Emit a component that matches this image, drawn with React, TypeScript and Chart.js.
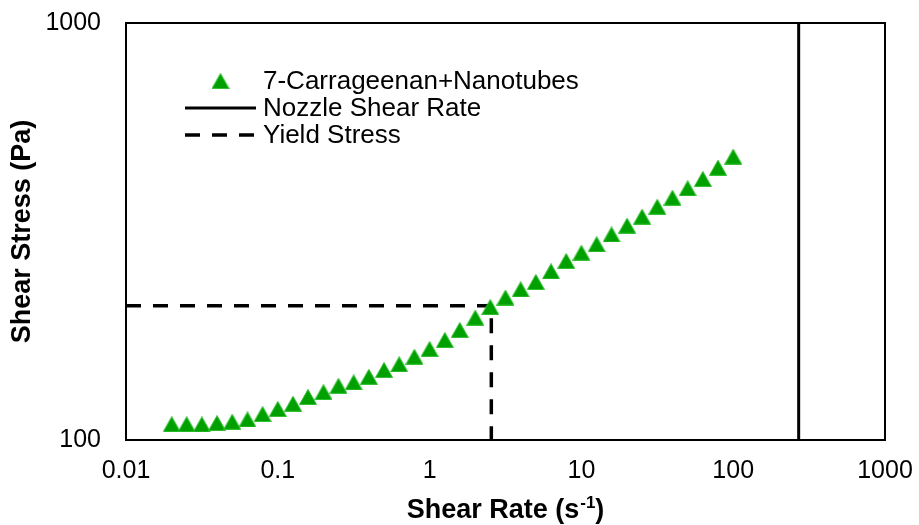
import { useEffect, useRef } from "react";
import { Chart, registerables } from "chart.js";
Chart.register(...registerables);

// ---- data ----
const shearRate = [
  0.02, 0.0251, 0.0316, 0.0398, 0.0501, 0.0631, 0.0794, 0.1, 0.126, 0.158,
  0.2, 0.251, 0.316, 0.398, 0.501, 0.631, 0.794, 1, 1.26, 1.58,
  2, 2.51, 3.16, 3.98, 5.01, 6.31, 7.94, 10, 12.6, 15.8,
  20, 25.1, 31.6, 39.8, 50.1, 63.1, 79.4, 100,
];
const shearStress = [
  109.1, 109.1, 109.0, 109.8, 110.6, 112.0, 115.4, 118.7, 122.2, 126.8,
  130.3, 134.9, 137.5, 141.8, 147.2, 151.9, 158.4, 165.3, 173.7, 183.6,
  196.5, 208.4, 219.6, 229.8, 239.3, 253.9, 268.7, 281.3, 294.8, 311.1,
  326.6, 343.2, 362.6, 381.1, 401.4, 422.6, 449.8, 478.1,
];
const nozzleShearRate = 270;
const yieldRate = 2.55;
const yieldStress = 210;
const xTicks = [0.01, 0.1, 1, 10, 100, 1000];
const yTicks = [100, 1000];
const seriesLabel = "7-Carrageenan+Nanotubes";
const nozzleLabel = "Nozzle Shear Rate";
const yieldLabel = "Yield Stress";
const xTitleParts = ["Shear Rate (s", "-1", ")"];
const yTitle = "Shear Stress (Pa)";

const GREEN = "#00A000";
const FONT = "'Liberation Sans', Arial, Helvetica, sans-serif";

function makeTriangle(): HTMLCanvasElement {
  const c = document.createElement("canvas");
  const w = 18, h = 16;
  c.width = w;
  c.height = h;
  const ctx = c.getContext("2d")!;
  ctx.beginPath();
  ctx.moveTo(w / 2, 0.5);
  ctx.lineTo(w - 0.5, h - 0.5);
  ctx.lineTo(0.5, h - 0.5);
  ctx.closePath();
  ctx.fillStyle = GREEN;
  ctx.fill();
  ctx.strokeStyle = "#33c033";
  ctx.lineWidth = 1;
  ctx.stroke();
  return c;
}

const framePlugin = {
  id: "frame",
  beforeDatasetsDraw(chart: any) {
    const { ctx, chartArea } = chart;
    ctx.save();
    ctx.strokeStyle = "#000";
    ctx.lineWidth = 2;
    ctx.strokeRect(chartArea.left, chartArea.top, chartArea.right - chartArea.left, chartArea.bottom - chartArea.top);
    ctx.restore();
  },
};

const legendPlugin = {
  id: "insideLegend",
  afterDraw(chart: any) {
    const { ctx, chartArea } = chart;
    const ds = chart.data.datasets;
    const lineX0 = chartArea.left + 59;
    const lineX1 = chartArea.left + 130;
    const textX = chartArea.left + 137;
    const rows = [chartArea.top + 58, chartArea.top + 85, chartArea.top + 112];
    ctx.save();
    ctx.font = `26px ${FONT}`;
    ctx.fillStyle = "#000";
    ctx.textBaseline = "middle";
    ctx.textAlign = "left";
    ds.forEach((d: any, i: number) => {
      const y = rows[i];
      if (d.pointStyle && typeof d.pointStyle !== "string") {
        const img = d.pointStyle as HTMLCanvasElement;
        ctx.drawImage(img, (lineX0 + lineX1) / 2 - img.width / 2, y - img.height / 2);
      } else {
        ctx.save();
        ctx.strokeStyle = d.borderColor;
        ctx.lineWidth = d.borderWidth;
        ctx.setLineDash(d.borderDash || []);
        ctx.beginPath();
        ctx.moveTo(lineX0, y);
        ctx.lineTo(lineX1, y);
        ctx.stroke();
        ctx.restore();
      }
      ctx.fillText(d.label, textX, y + 1);
    });
    ctx.restore();
  },
};

const xTitlePlugin = {
  id: "xTitle",
  afterDraw(chart: any) {
    const { ctx, chartArea } = chart;
    const mainFont = `bold 27px ${FONT}`;
    const supFont = `bold 17px ${FONT}`;
    ctx.save();
    ctx.fillStyle = "#000";
    ctx.textBaseline = "alphabetic";
    ctx.textAlign = "left";
    ctx.font = mainFont;
    const w0 = ctx.measureText(xTitleParts[0]).width;
    const w2 = ctx.measureText(xTitleParts[2]).width;
    ctx.font = supFont;
    const w1 = ctx.measureText(xTitleParts[1]).width;
    const total = w0 + w1 + w2 + 1;
    const cx = (chartArea.left + chartArea.right) / 2;
    const base = 518;
    let x = cx - total / 2;
    ctx.font = mainFont;
    ctx.fillText(xTitleParts[0], x, base);
    x += w0 + 1;
    ctx.font = supFont;
    ctx.fillText(xTitleParts[1], x, base - 10);
    x += w1;
    ctx.font = mainFont;
    ctx.fillText(xTitleParts[2], x, base);
    ctx.restore();
  },
};

export default function App() {
  const ref = useRef<HTMLCanvasElement>(null);
  useEffect(() => {
    if (!ref.current) return;
    const tri = makeTriangle();
    const chart = new Chart(ref.current, {
      type: "scatter",
      data: {
        datasets: [
          {
            label: seriesLabel,
            data: shearRate.map((x, i) => ({ x, y: shearStress[i] })),
            pointStyle: tri as any,
            pointRadius: 9,
            backgroundColor: GREEN,
            borderColor: GREEN,
            showLine: false,
          },
          {
            label: nozzleLabel,
            data: [
              { x: nozzleShearRate, y: yTicks[0] },
              { x: nozzleShearRate, y: yTicks[1] },
            ],
            showLine: true,
            borderColor: "#000",
            borderWidth: 3,
            pointRadius: 0,
          },
          {
            label: yieldLabel,
            data: [
              { x: xTicks[0], y: yieldStress },
              { x: yieldRate, y: yieldStress },
              { x: yieldRate, y: yTicks[0] },
            ],
            showLine: true,
            borderColor: "#000",
            borderWidth: 3.5,
            borderDash: [15, 12],
            pointRadius: 0,
          },
        ],
      },
      options: {
        responsive: false,
        animation: false,
        devicePixelRatio: 1,
        events: [],
        layout: { padding: { top: 23, right: 34, left: 0, bottom: 0 } },
        plugins: {
          legend: { display: false },
          tooltip: { enabled: false },
        },
        scales: {
          x: {
            type: "logarithmic",
            position: "bottom",
            min: xTicks[0],
            max: xTicks[xTicks.length - 1],
            grid: { display: false, drawTicks: false },
            border: { display: false },
            afterBuildTicks: (s: any) => {
              s.ticks = xTicks.map((v) => ({ value: v }));
            },
            afterFit: (s: any) => {
              s.height = 85;
              s.paddingLeft = 0;
              s.paddingRight = 0;
            },
            ticks: {
              autoSkip: false,
              maxRotation: 0,
              padding: 16,
              color: "#000",
              font: { family: FONT, size: 25 },
              callback: (v: any) => String(v),
            },
          },
          y: {
            type: "logarithmic",
            min: yTicks[0],
            max: yTicks[yTicks.length - 1],
            grid: { display: false, drawTicks: false },
            border: { display: false },
            afterBuildTicks: (s: any) => {
              s.ticks = yTicks.map((v) => ({ value: v }));
            },
            afterFit: (s: any) => {
              s.width = 126;
              s.paddingTop = 0;
              s.paddingBottom = 0;
            },
            ticks: {
              autoSkip: false,
              padding: 25,
              color: "#000",
              font: { family: FONT, size: 25 },
              callback: (v: any) => String(v),
            },
            title: {
              display: true,
              text: yTitle,
              color: "#000",
              font: { family: FONT, size: 27, weight: "bold" },
              padding: { top: 6, bottom: 0 },
            },
          },
        },
      },
      plugins: [framePlugin, legendPlugin, xTitlePlugin],
    } as any);
    return () => chart.destroy();
  }, []);
  return (
    <div style={{ position: "absolute", left: 0, top: 0, width: 919, height: 525, background: "#fff" }}>
      <canvas ref={ref} width={919} height={525} style={{ display: "block" }} />
    </div>
  );
}
